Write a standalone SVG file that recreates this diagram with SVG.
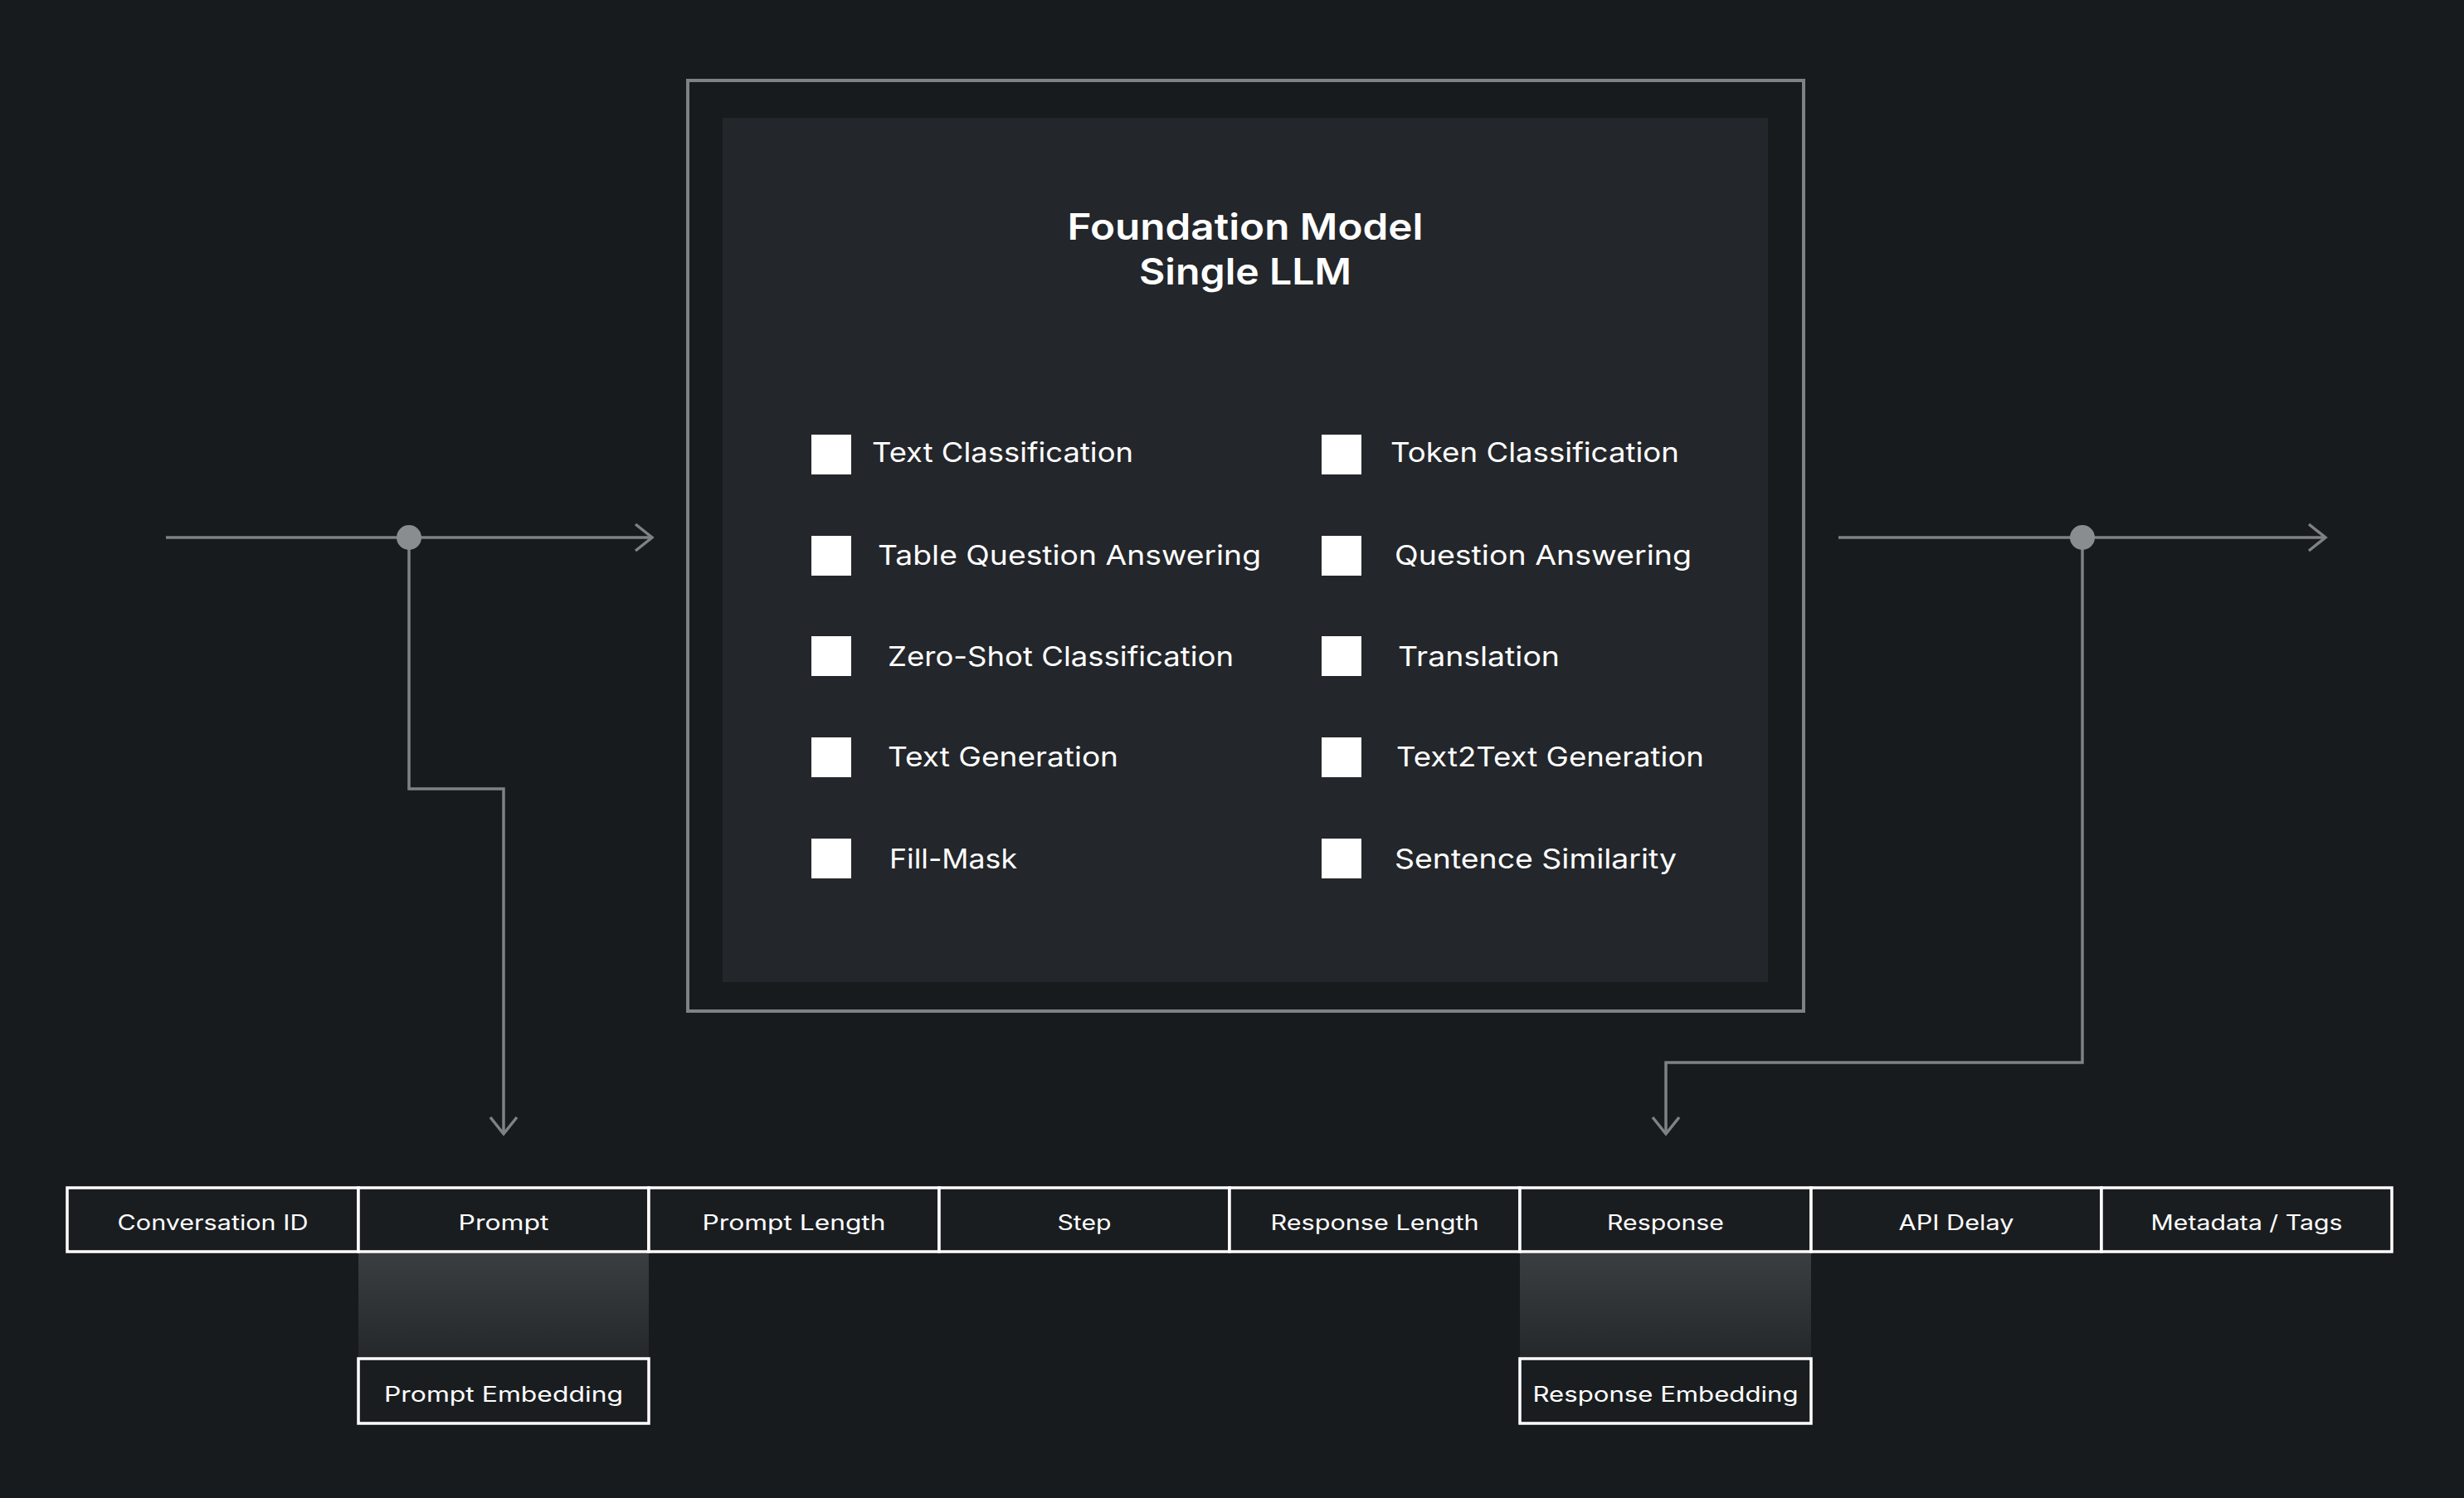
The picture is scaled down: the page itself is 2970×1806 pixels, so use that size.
<svg xmlns="http://www.w3.org/2000/svg" width="2970" height="1806" viewBox="0 0 2970 1806">
<defs>
<style>
.bg{fill:#181b1e}
.frame{fill:none;stroke:#7e8185;stroke-width:4}
.panel{fill:#23262a}
.title{font-family:Inter,"DejaVu Sans","Liberation Sans",sans-serif;font-weight:600;font-size:44px;fill:#ffffff;text-anchor:middle}
.box{fill:#ffffff}
.lbl{font-family:Inter,"DejaVu Sans","Liberation Sans",sans-serif;font-weight:400;font-size:33px;fill:#ffffff}
.cell{fill:#1a1d20;stroke:#ffffff;stroke-width:3.5}
.ctext{font-family:Inter,"DejaVu Sans","Liberation Sans",sans-serif;font-weight:400;font-size:25px;fill:#ffffff;text-anchor:middle}
.conn{fill:none;stroke:#7e8185;stroke-width:3.5}
.dot{fill:#8a8d90}
</style>
<marker id="arr" markerUnits="userSpaceOnUse" markerWidth="34" markerHeight="44" viewBox="-26 -22 32 44" refX="0" refY="0" orient="auto">
<path d="M-20,-16 L0,0 L-20,16" fill="none" stroke="#7e8185" stroke-width="3.5"/>
</marker>
<linearGradient id="fade" x1="0" y1="0" x2="0" y2="1">
<stop offset="0" stop-color="#3b3e41"/>
<stop offset="1" stop-color="#25282b"/>
</linearGradient>
</defs>
<rect class="bg" x="0" y="0" width="2970" height="1806"/>

<g id="foundation-model">
<rect class="frame" x="829" y="97" width="1345" height="1122"/>
<rect class="panel" x="871" y="142" width="1260" height="1042"/>
<text class="title" x="1501" y="289" textLength="429" lengthAdjust="spacingAndGlyphs">Foundation Model</text>
<text class="title" x="1501" y="343" textLength="256" lengthAdjust="spacingAndGlyphs">Single LLM</text>
</g>

<g id="task-text-classification"><rect class="box" x="978" y="524" width="48" height="48"/><text class="lbl" x="1051" y="557" textLength="315" lengthAdjust="spacingAndGlyphs">Text Classification</text></g>
<g id="task-token-classification"><rect class="box" x="1593" y="524" width="48" height="48"/><text class="lbl" x="1676" y="557" textLength="348" lengthAdjust="spacingAndGlyphs">Token Classification</text></g>
<g id="task-table-qa"><rect class="box" x="978" y="646" width="48" height="48"/><text class="lbl" x="1058" y="681" textLength="462" lengthAdjust="spacingAndGlyphs">Table Question Answering</text></g>
<g id="task-qa"><rect class="box" x="1593" y="646" width="48" height="48"/><text class="lbl" x="1681" y="681" textLength="358" lengthAdjust="spacingAndGlyphs">Question Answering</text></g>
<g id="task-zero-shot"><rect class="box" x="978" y="767" width="48" height="48"/><text class="lbl" x="1070" y="803" textLength="417" lengthAdjust="spacingAndGlyphs">Zero-Shot Classification</text></g>
<g id="task-translation"><rect class="box" x="1593" y="767" width="48" height="48"/><text class="lbl" x="1685" y="803" textLength="195" lengthAdjust="spacingAndGlyphs">Translation</text></g>
<g id="task-text-generation"><rect class="box" x="978" y="889" width="48" height="48"/><text class="lbl" x="1070" y="924" textLength="278" lengthAdjust="spacingAndGlyphs">Text Generation</text></g>
<g id="task-text2text"><rect class="box" x="1593" y="889" width="48" height="48"/><text class="lbl" x="1683" y="924" textLength="371" lengthAdjust="spacingAndGlyphs">Text2Text Generation</text></g>
<g id="task-fill-mask"><rect class="box" x="978" y="1011" width="48" height="48"/><text class="lbl" x="1072" y="1047" textLength="154" lengthAdjust="spacingAndGlyphs">Fill-Mask</text></g>
<g id="task-sentence-similarity"><rect class="box" x="1593" y="1011" width="48" height="48"/><text class="lbl" x="1681" y="1047" textLength="340" lengthAdjust="spacingAndGlyphs">Sentence Similarity</text></g>

<g id="connectors">
<path class="conn" d="M200,648 H786" marker-end="url(#arr)"/>
<path class="conn" d="M493,648 V951 H607 V1367" marker-end="url(#arr)"/>
<path class="conn" d="M2216,648 H2803" marker-end="url(#arr)"/>
<path class="conn" d="M2510,648 V1281 H2008 V1367" marker-end="url(#arr)"/>
<circle class="dot" cx="493" cy="648" r="15"/>
<circle class="dot" cx="2510" cy="648" r="15"/>
</g>

<g id="embedding-fades">
<rect x="432" y="1511" width="350" height="127" fill="url(#fade)"/>
<rect x="1832" y="1511" width="351" height="127" fill="url(#fade)"/>
</g>

<g id="col-conversation-id"><rect class="cell" x="81" y="1432" width="351" height="77"/><text class="ctext" x="256.5" y="1483" textLength="230" lengthAdjust="spacingAndGlyphs">Conversation ID</text></g>
<g id="col-prompt"><rect class="cell" x="432" y="1432" width="350" height="77"/><text class="ctext" x="607" y="1483" textLength="109" lengthAdjust="spacingAndGlyphs">Prompt</text></g>
<g id="col-prompt-length"><rect class="cell" x="782" y="1432" width="350" height="77"/><text class="ctext" x="957" y="1483" textLength="221" lengthAdjust="spacingAndGlyphs">Prompt Length</text></g>
<g id="col-step"><rect class="cell" x="1132" y="1432" width="350" height="77"/><text class="ctext" x="1307" y="1483" textLength="65" lengthAdjust="spacingAndGlyphs">Step</text></g>
<g id="col-response-length"><rect class="cell" x="1482" y="1432" width="350" height="77"/><text class="ctext" x="1657" y="1483" textLength="251" lengthAdjust="spacingAndGlyphs">Response Length</text></g>
<g id="col-response"><rect class="cell" x="1832" y="1432" width="351" height="77"/><text class="ctext" x="2007.5" y="1483" textLength="141" lengthAdjust="spacingAndGlyphs">Response</text></g>
<g id="col-api-delay"><rect class="cell" x="2183" y="1432" width="350" height="77"/><text class="ctext" x="2358" y="1483" textLength="139" lengthAdjust="spacingAndGlyphs">API Delay</text></g>
<g id="col-metadata-tags"><rect class="cell" x="2533" y="1432" width="350" height="77"/><text class="ctext" x="2708" y="1483" textLength="231" lengthAdjust="spacingAndGlyphs">Metadata / Tags</text></g>

<g id="prompt-embedding"><rect class="cell" x="432" y="1638" width="350" height="78"/><text class="ctext" x="607" y="1690" textLength="288" lengthAdjust="spacingAndGlyphs">Prompt Embedding</text></g>
<g id="response-embedding"><rect class="cell" x="1832" y="1638" width="351" height="78"/><text class="ctext" x="2007.5" y="1690" textLength="320" lengthAdjust="spacingAndGlyphs">Response Embedding</text></g>
</svg>
